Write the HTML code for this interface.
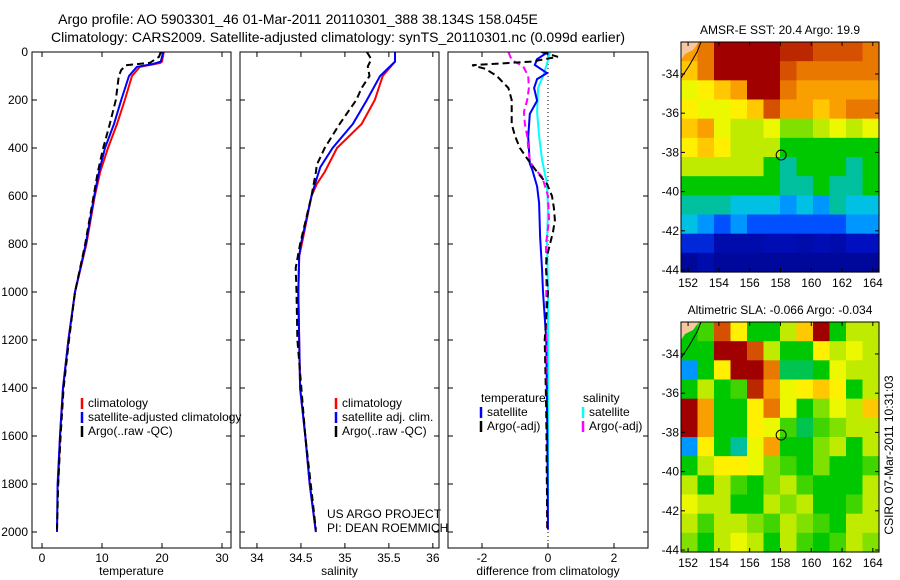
<!DOCTYPE html>
<html><head><meta charset="utf-8"><style>
body{margin:0;background:#fff}
svg{display:block;font-family:"Liberation Sans",sans-serif}
</style></head><body>
<svg id="fig" width="900" height="580" viewBox="0 0 900 580">
<text x="298" y="24" font-size="14" text-anchor="middle">Argo profile: AO 5903301_46 01-Mar-2011 20110301_388 38.134S 158.045E</text>
<text x="338" y="42" font-size="14" text-anchor="middle">Climatology: CARS2009. Satellite-adjusted climatology: synTS_20110301.nc (0.099d earlier)</text>
<text x="327" y="518" font-size="12">US ARGO PROJECT</text>
<text x="327" y="532" font-size="12">PI: DEAN ROEMMICH</text>
<text transform="translate(893,455) rotate(-90)" font-size="12" text-anchor="middle">CSIRO 07-Mar-2011 10:31:03</text>
</svg>
<script>
// ---------- data ----------
const depthTicks=[0,200,400,600,800,1000,1200,1400,1600,1800,2000];
const tempTicks=[0,10,20,30];
const salTicks=[34,34.5,35,35.5,36];
const salTickLabels=["34","34.5","35","35.5","36"];
const diffTicks=[-2,0,2];
const tempClimDepth=[0,40,46,62,100,200,300,400,500,600,800,1000,1200,1400,1600,1800];
const tempClim=[20.3,20,19.7,16.3,15,13.8,12.5,11,9.7,8.8,7.4,5.5,4.4,3.5,3.0,2.7];
const tempSatDepth=[0,40,50,62,100,200,300,400,500,600,800,1000,1200,1400,1600,1800,2000];
const tempSat=[20.2,19.8,18.5,15.8,14.5,13.2,12,10.5,9.5,8.7,7.3,5.5,4.4,3.5,3.0,2.6,2.5];
const tempArgoDepth=[0,20,45,55,75,100,200,300,400,500,600,800,1000,1200,1400,1600,1800,1990];
const tempArgo=[19.8,19.5,18,14,13.2,12.8,12.3,11.3,10.2,9.3,8.6,7.2,5.5,4.5,3.6,3.1,2.7,2.5];
const salClimDepth=[0,40,100,200,300,400,500,550,600,800,850,1000,1400,1600,1800,2000];
const salClim=[35.57,35.57,35.43,35.34,35.19,34.91,34.77,34.68,34.62,34.51,34.48,34.47,34.49,34.55,34.6,34.67];
const salSatDepth=[0,40,100,200,300,400,480,550,600,800,850,1000,1400,1600,1800,2000];
const salSat=[35.57,35.57,35.4,35.25,35.09,34.86,34.72,34.66,34.62,34.5,34.48,34.47,34.49,34.55,34.6,34.67];
const salArgoDepth=[0,30,60,100,150,200,300,400,470,500,600,800,900,1000,1200,1600,1990];
const salArgo=[35.25,35.3,35.26,35.28,35.19,35.13,34.94,34.77,34.68,34.67,34.62,34.49,34.44,34.45,34.46,34.55,34.67];
const dTempArgoDepth=[0,20,40,55,70,100,150,200,250,300,350,400,450,500,550,600,650,700,750,800,850,900,1000,1200,1500,1990];
const dTempArgo=[-0.2,0.3,-0.5,-2.3,-1.9,-1.55,-1.2,-1.1,-1.1,-1.1,-1.0,-0.85,-0.6,-0.33,-0.03,0.12,0.18,0.21,0.15,0.06,-0.03,-0.06,0,-0.1,-0.05,-0.02];
const dSalArgoDepth=[0,33,60,100,150,200,250,300,350,400,450,480,520,600,700,800,1000,1500,1990];
const dSalArgo=[-1.2,-1.1,-0.75,-0.6,-0.58,-0.63,-0.73,-0.7,-0.63,-0.6,-0.55,-0.45,-0.18,0,0.03,-0.06,-0.05,-0.05,-0.02];
const dTempSatDepth=[0,30,54,88,113,150,203,258,354,465,490,560,630,770,910,1000,1200,1600,1990];
const dTempSat=[0,-0.33,-0.4,-0.03,-0.33,-0.42,-0.33,-0.55,-0.6,-0.55,-0.48,-0.33,-0.27,-0.24,-0.18,-0.15,-0.05,-0.02,0];
const dSalSatDepth=[0,50,100,150,250,350,450,550,650,800,1000,1500,1990];
const dSalSat=[0.06,-0.03,-0.15,-0.3,-0.33,-0.27,-0.18,-0.03,0,-0.03,0,0,0];
const latTicks=[-34,-36,-38,-40,-42,-44];
const lonTicks=[152,154,156,158,160,162,164];
const sstGrid=[
[0.8,0.85,1,1,1,1,0.95,0.95,0.9,0.9,0.9,0.85],
[0.75,0.85,1,1,1,1,0.9,0.85,0.85,0.85,0.85,0.85],
[0.65,0.7,0.75,0.8,1,1,0.85,0.8,0.8,0.8,0.8,0.8],
[0.7,0.65,0.65,0.7,0.75,0.9,0.8,0.8,0.75,0.8,0.85,0.85],
[0.75,0.8,0.65,0.6,0.6,0.65,0.55,0.55,0.6,0.65,0.6,0.65],
[0.7,0.75,0.7,0.6,0.6,0.6,0.45,0.45,0.45,0.45,0.45,0.45],
[0.6,0.6,0.6,0.6,0.6,0.45,0.35,0.45,0.45,0.45,0.35,0.45],
[0.45,0.45,0.45,0.45,0.45,0.45,0.35,0.35,0.45,0.35,0.35,0.45],
[0.35,0.35,0.35,0.3,0.3,0.3,0.25,0.3,0.25,0.35,0.3,0.3],
[0.3,0.25,0.2,0.25,0.2,0.2,0.2,0.2,0.2,0.2,0.25,0.25],
[0.15,0.15,0.08,0.08,0.08,0.1,0.1,0.08,0.1,0.08,0.12,0.12],
[0.05,0.08,0.05,0.05,0.05,0.05,0.05,0.05,0.05,0.05,0.05,0.05]];
const slaGrid=[
[0.45,0.5,0.9,0.7,0.45,0.45,0.6,0.75,1.0,0.45,0.6,0.6],
[0.45,0.45,1,1,0.9,0.6,0.45,0.45,0.7,0.6,0.65,0.6],
[0.25,0.45,0.7,1,1,0.85,0.4,0.4,0.45,0.65,0.6,0.6],
[0.45,0.6,0.45,0.5,0.95,0.8,0.65,0.7,0.75,0.7,0.45,0.6],
[1,0.8,0.45,0.45,0.7,0.85,0.65,0.45,0.55,0.65,0.6,0.75],
[1,0.8,0.45,0.45,0.7,0.65,0.5,0.4,0.5,0.55,0.6,0.6],
[0.25,0.7,0.45,0.35,0.65,0.8,0.45,0.45,0.55,0.6,0.45,0.6],
[0.45,0.6,0.7,0.7,0.65,0.55,0.5,0.45,0.55,0.45,0.45,0.5],
[0.6,0.45,0.6,0.5,0.45,0.55,0.6,0.5,0.45,0.45,0.45,0.6],
[0.65,0.6,0.6,0.45,0.45,0.6,0.55,0.6,0.45,0.45,0.5,0.6],
[0.6,0.5,0.6,0.6,0.55,0.5,0.6,0.55,0.5,0.45,0.6,0.6],
[0.55,0.45,0.6,0.65,0.6,0.45,0.6,0.5,0.45,0.5,0.6,0.55]];
const argoLon=158.045, argoLat=-38.134;

// ---------- helpers ----------
const NS="http://www.w3.org/2000/svg";
const svg=document.getElementById('fig');
function mk(tag,attrs,parent){const e=document.createElementNS(NS,tag);for(const k in attrs)e.setAttribute(k,attrs[k]);(parent||svg).appendChild(e);return e;}
const yTop=52, yBot=548, dMax=(548-52)/0.24;
function yD(d){return yTop+d*0.24;}

function panel(name,x0,x1,xmin,xmax,ticks,labels,xlabel,showY){
  const g=mk('g',{});
  
  
  const sx=v=>x0+(v-xmin)/(xmax-xmin)*(x1-x0);
  ticks.forEach((t,i)=>{
    const x=sx(t);
    mk('line',{x1:x,x2:x,y1:yBot,y2:yBot-5,stroke:'#000'},g);
    mk('line',{x1:x,x2:x,y1:yTop,y2:yTop+5,stroke:'#000'},g);
    const tx=mk('text',{x:x,y:yBot+14,'font-size':12,'text-anchor':'middle'},g);
    tx.textContent=labels[i];
    
    
  });
  depthTicks.forEach(d=>{
    const y=yD(d);
    mk('line',{x1:x0,x2:x0+5,y1:y,y2:y,stroke:'#000'},g);
    mk('line',{x1:x1,x2:x1-5,y1:y,y2:y,stroke:'#000'},g);
    if(showY){const t=mk('text',{x:x0-4,y:y+4,'font-size':12,'text-anchor':'end'},g);t.textContent=d;
      
      }
  });
  const xl=mk('text',{x:(x0+x1)/2,y:575,'font-size':12,'text-anchor':'middle'},g);
  xl.textContent=xlabel;
  
  
  const clip=mk('clipPath',{id:'clip-'+name},g);
  mk('rect',{x:x0,y:yTop,width:x1-x0,height:yBot-yTop},clip);
  return {g,sx,x0,x1};
}
function series(p,name,depths,vals,color,dash,w){
  const pts=depths.map((d,i)=>p.sx(vals[i]).toFixed(1)+','+yD(d).toFixed(1)).join(' ');
  const l=mk('polyline',{points:pts,fill:'none',stroke:color,'stroke-width':w||2,'clip-path':'url(#'+p.clipId+')'},p.g);
  if(dash)l.setAttribute('stroke-dasharray',dash);
  
  
}
function frame(p){mk('rect',{x:p.x0,y:yTop,width:p.x1-p.x0,height:yBot-yTop,fill:'none',stroke:'#000'},p.g);}
function legend(p,x,y,items){
  items.forEach((it,i)=>{
    const yy=y+i*14;
    if(it.color){const l=mk('line',{x1:x,x2:x,y1:yy-9,y2:yy+2,stroke:it.color,'stroke-width':2.5},p.g);
      
      }
    const t=mk('text',{x:x+(it.color?6:0),y:yy,'font-size':12},p.g);t.textContent=it.label;
    
    
  });
}

// panel 1 temperature
const p1=panel('temperature',32,231,-1.67,31.5,tempTicks,tempTicks.map(String),'temperature',true);p1.clipId='clip-temperature';
series(p1,'temp-climatology-line',tempClimDepth,tempClim,'#ff0000');
series(p1,'temp-satellite-line',tempSatDepth,tempSat,'#0000ff');
series(p1,'temp-argo-line',tempArgoDepth,tempArgo,'#000','7,4');
frame(p1);
legend(p1,82,407,[{color:'#ff0000',label:'climatology'},{color:'#0000ff',label:'satellite-adjusted climatology'},{color:'#000',label:'Argo(..raw -QC)'}]);
// panel 2 salinity
const p2=panel('salinity',240,439,33.807,36.07,salTicks,salTickLabels,'salinity',false);p2.clipId='clip-salinity';
series(p2,'sal-climatology-line',salClimDepth,salClim,'#ff0000');
series(p2,'sal-satellite-line',salSatDepth,salSat,'#0000ff');
series(p2,'sal-argo-line',salArgoDepth,salArgo,'#000','7,4');
frame(p2);
legend(p2,336,407,[{color:'#ff0000',label:'climatology'},{color:'#0000ff',label:'satellite adj. clim.'},{color:'#000',label:'Argo(..raw -QC)'}]);
// panel 3 difference
const p3=panel('difference',448,648,-3.03,3.03,diffTicks,diffTicks.map(String),'difference from climatology',false);p3.clipId='clip-difference';
mk('line',{x1:p3.sx(0),x2:p3.sx(0),y1:yTop,y2:yBot,stroke:'#000','stroke-dasharray':'1,3'},p3.g);
series(p3,'diff-sal-satellite-line',dSalSatDepth,dSalSat,'#00ffff');
series(p3,'diff-temp-satellite-line',dTempSatDepth,dTempSat,'#0000ff');
series(p3,'diff-sal-argo-line',dSalArgoDepth,dSalArgo,'#ff00ff','7,4');
series(p3,'diff-temp-argo-line',dTempArgoDepth,dTempArgo,'#000','7,4');
frame(p3);
legend(p3,481,402,[{label:'temperature'},{color:'#0000ff',label:'satellite'},{color:'#000',label:'Argo(-adj)'}]);
legend(p3,583,402,[{label:'salinity'},{color:'#00ffff',label:'satellite'},{color:'#ff00ff',label:'Argo(-adj)'}]);

// ---------- maps ----------
const cstops=[[0,[0,0,128]],[0.12,[0,16,192]],[0.2,[0,80,255]],[0.28,[0,192,255]],[0.35,[0,192,160]],[0.45,[0,200,0]],[0.55,[128,224,0]],[0.62,[216,240,0]],[0.68,[255,255,0]],[0.78,[255,176,0]],[0.88,[224,96,0]],[1,[160,0,0]]];
function cmap(v){for(let i=1;i<cstops.length;i++){if(v<=cstops[i][0]){const a=cstops[i-1],b=cstops[i];const f=(v-a[0])/(b[0]-a[0]);return 'rgb('+a[1].map((c,j)=>Math.round(c+(b[1][j]-c)*f)).join(',')+')';}}return 'rgb(160,0,0)';}
function map(name,x0,x1,y0,y1,grid,title){
  const lonMin=151.54,lonMax=164.4,latMax=-32.37,latMin=-44.1;
  const sx=l=>x0+(l-lonMin)/(lonMax-lonMin)*(x1-x0);
  const sy=l=>y0+(latMax-l)/(latMax-latMin)*(y1-y0);
  const g=mk('g',{});
  
  
  const nr=grid.length,nc=grid[0].length;
  const cw=(x1-x0)/nc,ch=(y1-y0)/nr;
  grid.forEach((row,r)=>row.forEach((v,c)=>{
    const rc=mk('rect',{x:x0+c*cw,y:y0+r*ch,width:cw+0.6,height:ch+0.6,fill:cmap(v)},g);
    
    
  }));
  const land=mk('polygon',{points:`${x0},${y0} ${x0+18},${y0} ${x0+12},${y0+8} ${x0+4},${y0+12} ${x0},${y0+18}`,fill:'#f7c8a0'},g);
  
  
  mk('polyline',{points:`${x0+20},${y0} ${x0+16},${y0+10} ${x0+8},${y0+24} ${x0},${y0+36}`,fill:'none',stroke:'#000','stroke-width':1},g);
  const dot=mk('circle',{cx:sx(argoLon),cy:sy(argoLat),r:5,fill:'none',stroke:'#000','stroke-width':1},g);
  
  
  mk('rect',{x:x0,y:y0,width:x1-x0,height:y1-y0,fill:'none',stroke:'#000'},g);
  latTicks.forEach(l=>{const y=sy(l);
    mk('line',{x1:x0,x2:x0+4,y1:y,y2:y,stroke:'#000'},g);mk('line',{x1:x1,x2:x1-4,y1:y,y2:y,stroke:'#000'},g);
    const t=mk('text',{x:x0-2,y:y+4,'font-size':12,'text-anchor':'end'},g);t.textContent=l;
    
    });
  lonTicks.forEach(l=>{const x=sx(l);
    mk('line',{x1:x,x2:x,y1:y1,y2:y1-4,stroke:'#000'},g);mk('line',{x1:x,x2:x,y1:y0,y2:y0+4,stroke:'#000'},g);
    const t=mk('text',{x:x,y:y1+15,'font-size':12,'text-anchor':'middle'},g);t.textContent=l;
    
    });
  const tt=mk('text',{x:(x0+x1)/2,y:y0-8,'font-size':12,'text-anchor':'middle'},g);tt.textContent=title;
  
  
}
map('sst',681,879,42,272,sstGrid,'AMSR-E SST: 20.4  Argo: 19.9');
map('sla',681,879,322,552,slaGrid,'Altimetric SLA: -0.066  Argo: -0.034');
</script>
</body></html>
